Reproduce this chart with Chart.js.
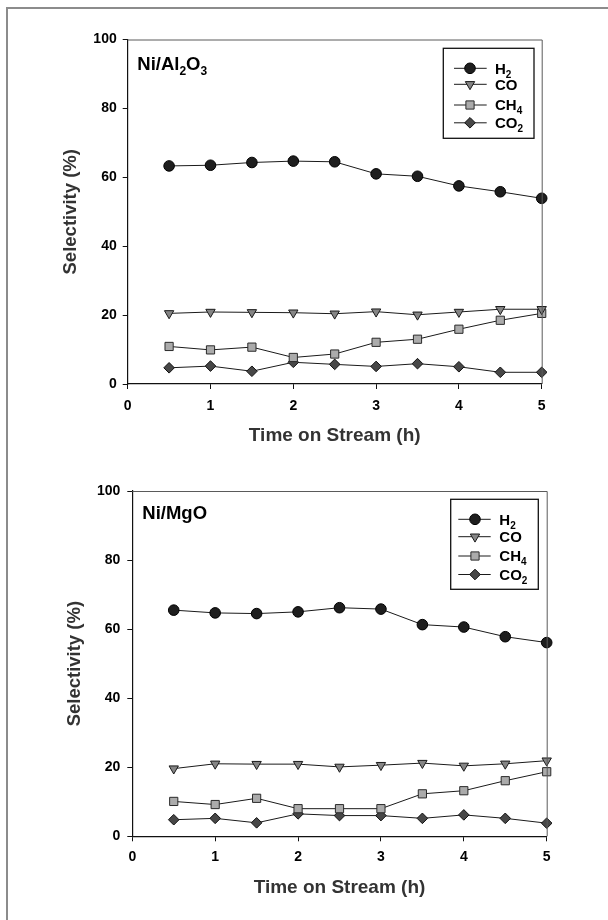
<!DOCTYPE html>
<html>
<head>
<meta charset="utf-8">
<script src="https://cdn.jsdelivr.net/npm/chart.js@4/dist/chart.umd.min.js"></script>
<style>
  html, body { margin: 0; padding: 0; background: #fff; }
  #page { position: relative; width: 608px; height: 920px; overflow: hidden; }
  #frame { position: absolute; left: 6px; top: 7px; width: 800px; height: 1000px;
           border-left: 2px solid #8c8c8c; border-top: 2px solid #8c8c8c; }
  .panel { position: absolute; left: 0; width: 608px; height: 460px; }
  #p1 { top: 0; }
  #p2 { top: 460px; }
</style>
</head>
<body>
<div id="page">
  <div id="frame"></div>
  <div class="panel" id="p1"><canvas id="c1" width="608" height="460"></canvas></div>
  <div class="panel" id="p2"><canvas id="c2" width="608" height="460"></canvas></div>
</div>
<script>
// ---- data ----
const hours = [0.5, 1, 1.5, 2, 2.5, 3, 3.5, 4, 4.5, 5];
const seriesNames = ['H2', 'CO', 'CH4', 'CO2'];
const xTickValues = [0, 1, 2, 3, 4, 5];
const yTickValues = [0, 20, 40, 60, 80, 100];
const panelTitles = ['Ni/Al2O3', 'Ni/MgO'];

// Ni/Al2O3 selectivity (%)
const alH2  = [63.3, 63.5, 64.3, 64.7, 64.5, 61.0, 60.3, 57.5, 55.8, 53.9];
const alCO  = [20.5, 20.9, 20.8, 20.7, 20.4, 21.0, 20.1, 20.9, 21.7, 21.7];
const alCH4 = [10.9,  9.9, 10.7,  7.7,  8.7, 12.1, 13.0, 15.9, 18.5, 20.5];
const alCO2 = [ 4.7,  5.2,  3.7,  6.3,  5.7,  5.1,  5.9,  5.0,  3.4,  3.4];

// Ni/MgO selectivity (%)
const mgH2  = [65.5, 64.7, 64.5, 65.0, 66.2, 65.8, 61.3, 60.6, 57.8, 56.1];
const mgCO  = [19.6, 21.0, 20.9, 20.9, 20.1, 20.6, 21.2, 20.4, 21.0, 21.9];
const mgCH4 = [10.1,  9.2, 11.0,  8.0,  8.0,  8.0, 12.3, 13.2, 16.1, 18.7];
const mgCO2 = [ 4.8,  5.2,  3.9,  6.5,  6.0,  6.0,  5.2,  6.2,  5.2,  3.8];

// ---- styling ----
const FONT = '"Liberation Sans", Arial, Helvetica, sans-serif';
const markers = [
  { style: 'circle',   rot: 0,   r: 5.3, fill: '#1e1e1e', edge: '#000' },
  { style: 'triangle', rot: 180, r: 5.4, fill: '#858585', edge: '#1a1a1a' },
  { style: 'rect',     rot: 0,   r: 5.8, fill: '#ababab', edge: '#2a2a2a' },
  { style: 'rectRot',  rot: 0,   r: 5.3, fill: '#474747', edge: '#111' }
];

// text whose digits are drawn as subscripts (chemical formulae)
function drawChem(ctx, text, x, baseline, size, color) {
  ctx.save();
  ctx.fillStyle = color;
  ctx.textBaseline = 'alphabetic';
  ctx.textAlign = 'left';
  let cx = x;
  for (const part of text.match(/\d+|\D+/g)) {
    const sub = /^\d+$/.test(part);
    const s = sub ? Math.round(size * 0.66) : size;
    ctx.font = 'bold ' + s + 'px ' + FONT;
    ctx.fillText(part, cx, sub ? baseline + size * 0.27 : baseline);
    cx += ctx.measureText(part).width;
  }
  ctx.restore();
}

function drawMarker(ctx, m, x, y) {
  ctx.save();
  ctx.fillStyle = m.fill;
  ctx.strokeStyle = m.edge;
  ctx.lineWidth = 1;
  Chart.helpers.drawPoint(ctx, { pointStyle: m.style, radius: m.r, rotation: m.rot, borderWidth: 1 }, x, y);
  ctx.restore();
}

// frame on top/right of plot area, panel label and legend box
const decorPlugin = {
  id: 'decor',
  afterDatasetsDraw(chart, args, opts) {
    const ctx = chart.ctx;
    const a = chart.chartArea;
    ctx.save();
    ctx.strokeStyle = '#5a5a5a';
    ctx.lineWidth = 1;
    ctx.beginPath();
    ctx.moveTo(a.left, a.top + 0.5);
    ctx.lineTo(a.right + 0.5, a.top + 0.5);
    ctx.lineTo(a.right + 0.5, a.bottom);
    ctx.stroke();
    ctx.restore();

    // panel label
    drawChem(ctx, opts.title, opts.titleX, opts.titleY, 18.5, '#000');

    // legend
    const L = opts.legend;
    ctx.save();
    ctx.fillStyle = '#fff';
    ctx.fillRect(L.x, L.y, L.w, L.h);
    ctx.strokeStyle = '#111';
    ctx.lineWidth = 1.3;
    ctx.strokeRect(L.x, L.y, L.w, L.h);
    ctx.restore();
    seriesNames.forEach((name, i) => {
      const ry = L.y + L.rows[i];
      ctx.save();
      ctx.strokeStyle = '#1a1a1a';
      ctx.lineWidth = 1;
      ctx.beginPath();
      ctx.moveTo(L.x + L.line0, ry);
      ctx.lineTo(L.x + L.line1, ry);
      ctx.stroke();
      ctx.restore();
      drawMarker(ctx, markers[i], L.x + L.mark, ry);
      drawChem(ctx, name, L.x + L.text, ry + 5.2, 15, '#000');
    });
  }
};

function makeChart(canvasId, title, series, geo) {
  const datasets = series.map((vals, i) => ({
    label: seriesNames[i],
    data: hours.map((h, j) => ({ x: h, y: vals[j] })),
    borderColor: '#1a1a1a',
    borderWidth: 1,
    pointStyle: markers[i].style,
    pointRotation: markers[i].rot,
    pointRadius: markers[i].r,
    pointHoverRadius: markers[i].r,
    pointBackgroundColor: markers[i].fill,
    pointBorderColor: markers[i].edge,
    pointBorderWidth: 1,
    tension: 0,
    clip: false
  }));

  return new Chart(document.getElementById(canvasId), {
    type: 'line',
    data: { datasets },
    plugins: [decorPlugin],
    options: {
      responsive: false,
      animation: false,
      events: [],
      layout: { padding: { left: 0, top: geo.top, right: 608 - geo.right, bottom: 0 } },
      plugins: {
        legend: { display: false },
        tooltip: { enabled: false },
        decor: { title, titleX: geo.titleX, titleY: geo.titleY, legend: geo.legend }
      },
      scales: {
        x: {
          type: 'linear',
          min: 0, max: 5,
          afterBuildTicks: s => { s.ticks = xTickValues.map(v => ({ value: v })); },
          afterFit: s => { s.height = 460 - geo.bottom; },
          grid: { drawOnChartArea: false, drawTicks: true, tickLength: 5, color: '#111', lineWidth: 1 },
          border: { display: true, color: '#111', width: 1.2 },
          ticks: { padding: geo.xTickPad, color: '#000', maxRotation: 0, autoSkip: false,
                   font: { family: FONT, size: 14, weight: 'bold' } },
          title: { display: true, text: 'Time on Stream (h)', color: '#333',
                   font: { family: FONT, size: 19, weight: 'bold' },
                   padding: { top: 0, bottom: geo.xTitlePad } }
        },
        y: {
          type: 'linear',
          min: 0, max: 100,
          afterBuildTicks: s => { s.ticks = yTickValues.map(v => ({ value: v })); },
          afterFit: s => { s.width = geo.left; },
          grid: { drawOnChartArea: false, drawTicks: true, tickLength: 5, color: '#111', lineWidth: 1 },
          border: { display: true, color: '#111', width: 1.2 },
          ticks: { padding: geo.yTickPad, color: '#000',
                   font: { family: FONT, size: 14, weight: 'bold' } },
          title: { display: true, text: 'Selectivity (%)', color: '#333',
                   font: { family: FONT, size: 18.5, weight: 'bold' },
                   padding: { top: geo.yTitlePad, bottom: 0 } }
        }
      }
    }
  });
}

makeChart('c1', panelTitles[0], [alH2, alCO, alCH4, alCO2], {
  left: 127.7, right: 541.7, top: 39.5, bottom: 384,
  xTickPad: 8.9, xTitlePad: 13.2, yTickPad: 6, yTitlePad: 59.7,
  titleX: 137.3, titleY: 70,
  legend: { x: 443.3, y: 48.3, w: 90.7, h: 90, rows: [20, 36, 56.7, 74.5],
            line0: 10.7, line1: 43.4, mark: 26.7, text: 51.7 }
});

makeChart('c2', panelTitles[1], [mgH2, mgCO, mgCH4, mgCO2], {
  left: 132.3, right: 546.7, top: 31, bottom: 376.3,
  xTickPad: 7, xTitlePad: 20.4, yTickPad: 7, yTitlePad: 63.9,
  titleX: 142.3, titleY: 59.3,
  legend: { x: 450.7, y: 39.3, w: 87.6, h: 90, rows: [20, 37.4, 56.7, 75.2],
            line0: 7.6, line1: 40, mark: 24.3, text: 48.6 }
});
</script>
</body>
</html>
